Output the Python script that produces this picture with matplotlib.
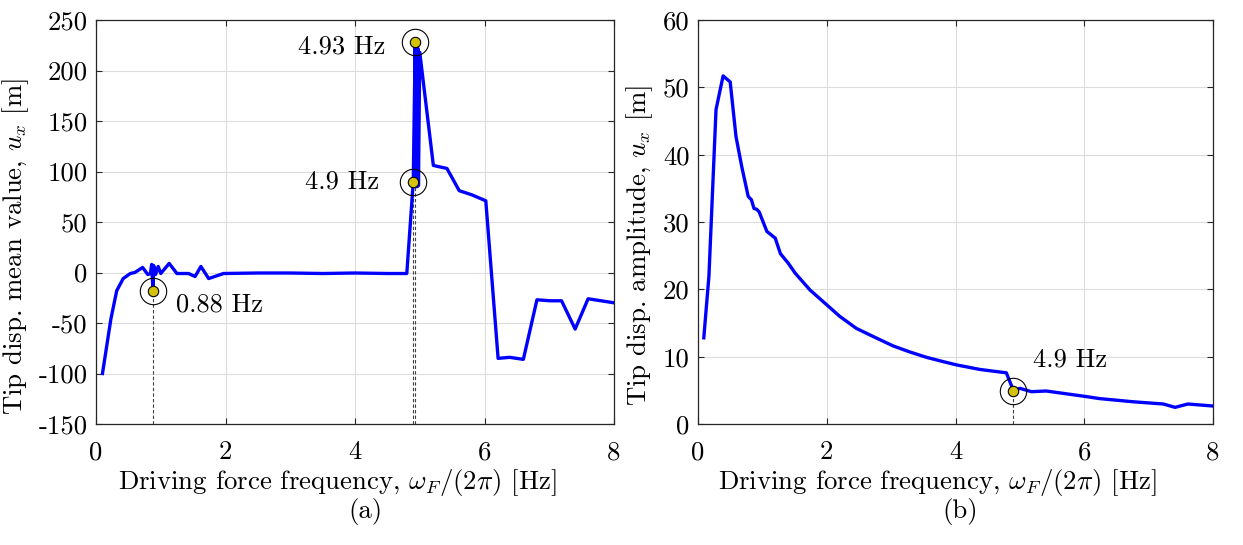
import numpy as np
import matplotlib
matplotlib.use("Agg")
import matplotlib.pyplot as plt

plt.rcParams['font.family'] = ['cmr10', 'DejaVu Serif']
plt.rcParams['mathtext.fontset'] = 'cm'
plt.rcParams['axes.unicode_minus'] = False
plt.rcParams['font.size'] = 19.3

# (a) tip displacement mean value
freq_a = [0.1, 0.23, 0.32, 0.42, 0.53, 0.6, 0.72, 0.8, 0.84, 0.86, 0.88, 0.89, 0.92,
          0.96, 1.0, 1.13, 1.25, 1.43, 1.53, 1.62, 1.74, 1.97, 2.5, 3.0, 3.5, 4.0,
          4.5, 4.8, 4.9, 4.93, 4.94, 4.95, 4.96, 4.97, 4.98, 5.0, 5.21, 5.42, 5.61,
          5.8, 6.02, 6.21, 6.39, 6.6, 6.81, 7.01, 7.19, 7.4, 7.6, 8.0]
mean_a = [-100, -46, -18, -6, -1, 0, 5, -2, -1, 8, -18, 7, -2,
          6, -1, 9, -1, -1, -4, 6, -6, -1, -0.5, -0.5, -1, -0.5,
          -1, -1, 90, 228, 85, 225, 85, 222, 86, 218, 106, 103, 81,
          77, 71, -85, -84, -86, -27, -28, -28, -56, -26, -30]
mark_a_x = [0.88, 4.9, 4.93]
mark_a_y = [-18, 90, 228]
mark_a_lbl = ['0.88 Hz', '4.9 Hz', '4.93 Hz']

# (b) tip displacement amplitude
freq_b = [0.09, 0.17, 0.28, 0.39, 0.5, 0.59, 0.68, 0.78, 0.83, 0.87, 0.91, 0.95,
          1.07, 1.2, 1.28, 1.4, 1.51, 1.74, 2.0, 2.2, 2.46, 2.72, 3.03, 3.29, 3.55,
          3.81, 4.02, 4.38, 4.79, 4.9, 5.0, 5.18, 5.41, 6.04, 6.24, 6.76, 7.23,
          7.41, 7.61, 8.0]
amp_b = [12.8, 22, 46.7, 51.7, 50.8, 42.7, 38.2, 33.8, 33.3, 32, 31.9, 31.5,
         28.6, 27.6, 25.3, 23.9, 22.4, 19.9, 17.7, 16.0, 14.2, 13.0, 11.6, 10.7, 9.9,
         9.26, 8.77, 8.1, 7.6, 4.95, 5.3, 4.8, 4.9, 4.06, 3.77, 3.3, 2.97,
         2.47, 2.97, 2.67]
mark_b_x = [4.9]
mark_b_y = [4.95]
mark_b_lbl = ['4.9 Hz']

fig = plt.figure(figsize=(12.43, 5.45), dpi=100)
ax1 = fig.add_axes([96/1243, 121/545, 518/1243, 404/545])
ax2 = fig.add_axes([698/1243, 121/545, 515/1243, 404/545])


def style(ax, ylim, yticks):
    ax.set_xlim(0, 8)
    ax.set_ylim(*ylim)
    ax.set_xticks([0, 2, 4, 6, 8])
    ax.set_yticks(yticks)
    ax.grid(True, color='#dcdcdc', linewidth=0.8)
    ax.set_axisbelow(True)
    ax.tick_params(direction='in', length=4, width=0.8, top=True, right=True,
                   colors='#262626', labelcolor='black')
    ax.tick_params(axis='x', pad=12)
    ax.tick_params(axis='y', pad=6)
    for s in ax.spines.values():
        s.set_color('#262626')
        s.set_linewidth(0.9)


def markers(ax, xs, ys, ybot, offsets, labels):
    for x, y, off, lbl in zip(xs, ys, offsets, labels):
        ax.plot([x, x], [ybot, y], color='0.25', linestyle=(0, (3, 2)),
                linewidth=0.8, zorder=3)
        ax.plot(x, y, 'o', markersize=19, markerfacecolor='none',
                markeredgecolor='black', markeredgewidth=0.8, zorder=5)
        ax.plot(x, y, 'o', markersize=7.5, markerfacecolor='#d4c10a',
                markeredgecolor='black', markeredgewidth=0.8, zorder=6)
        ax.annotate(lbl, (x, y), xytext=off, textcoords='offset points',
                    ha='center', va='center', fontsize=19)


style(ax1, (-150, 250), np.arange(-150, 251, 50))
ax1.plot(freq_a, mean_a, color='#0000ff', linewidth=2.4, zorder=4)
markers(ax1, mark_a_x, mark_a_y, -150, [(48, -10), (-51, 0), (-53, -3.5)], mark_a_lbl)
ax1.set_xlabel(r'Driving force frequency, $\omega_F/(2\pi)$ [Hz]', va='center')
ax1.xaxis.set_label_coords(0.466, -0.1436)
ax1.set_ylabel(r'Tip disp. mean value, $u_x$ [m]', va='center')
ax1.yaxis.set_label_coords(-0.156, 0.44)
ax1.text(0.52, -0.2178, '(a)', transform=ax1.transAxes, ha='center', va='center')

style(ax2, (0, 60), np.arange(0, 61, 10))
ax2.plot(freq_b, amp_b, color='#0000ff', linewidth=2.4, zorder=4)
markers(ax2, mark_b_x, mark_b_y, 0, [(41, 22)], mark_b_lbl)
ax2.set_xlabel(r'Driving force frequency, $\omega_F/(2\pi)$ [Hz]', va='center')
ax2.xaxis.set_label_coords(0.464, -0.1436)
ax2.set_ylabel(r'Tip disp. amplitude, $u_x$ [m]', va='center')
ax2.yaxis.set_label_coords(-0.113, 0.443)
ax2.text(0.51, -0.2178, '(b)', transform=ax2.transAxes, ha='center', va='center')

fig.savefig('out.png', dpi=100)
